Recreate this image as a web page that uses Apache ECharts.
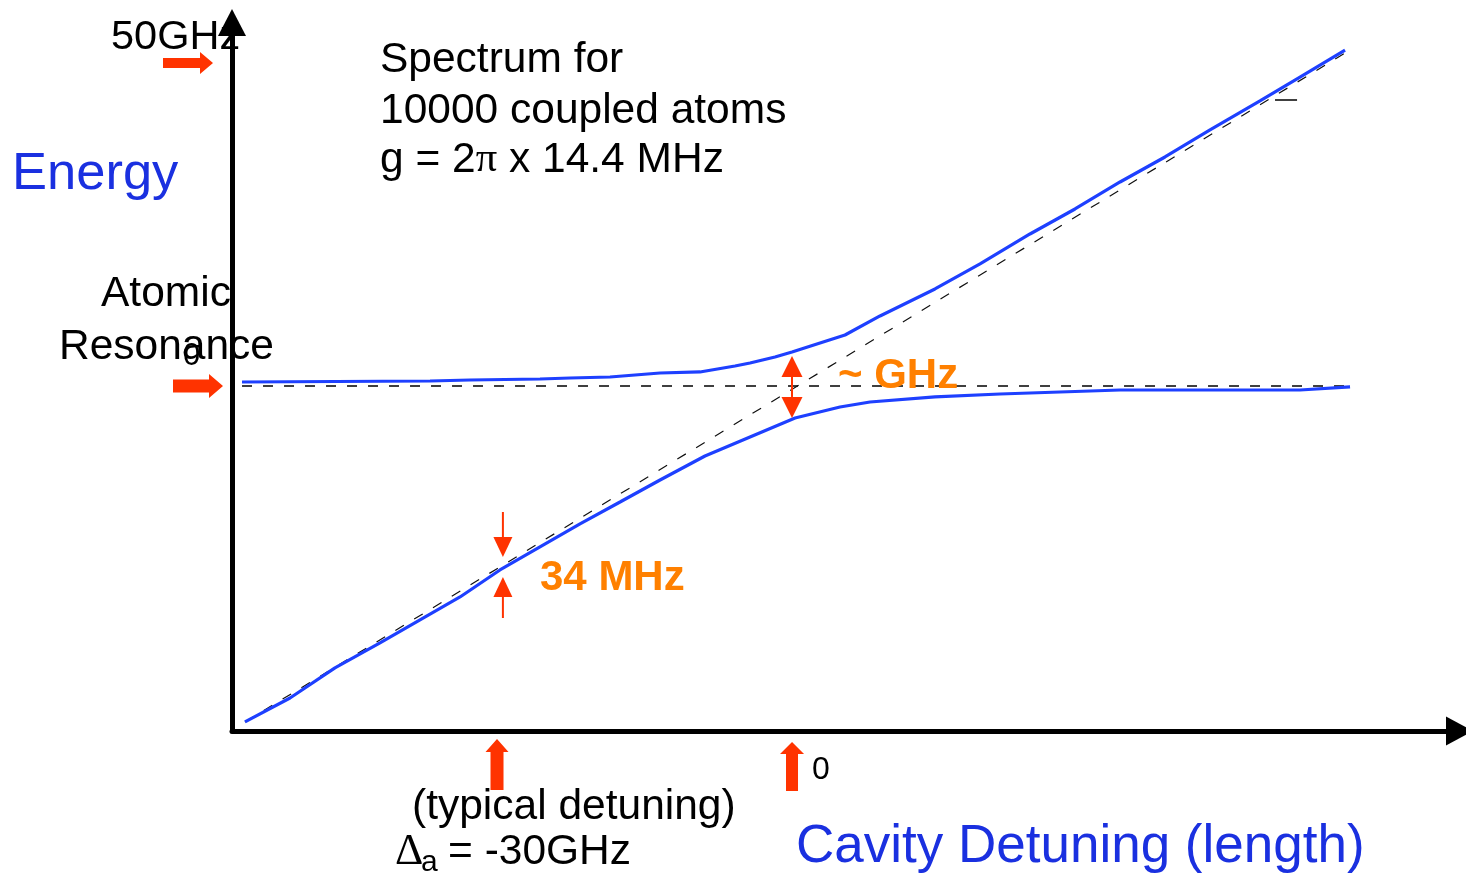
<!DOCTYPE html>
<html>
<head>
<meta charset="utf-8">
<title>Spectrum for 10000 coupled atoms</title>
<script src="https://cdn.jsdelivr.net/npm/echarts@6/dist/echarts.min.js"></script>
<style>
  html, body { margin: 0; padding: 0; background: #fff; }
  #chart { width: 1466px; height: 874px; }
</style>
</head>
<body>
<div id="chart"></div>
<script>
// cavity detuning (GHz) vs energy relative to the atomic resonance (GHz)
const upperX = [-55.93, -36.81, -32.75, -25.63, -22.58, -18.51, -13.42, -9.36, -5.80, -4.27, -1.73, 0, 2.85, 5.39, 8.95, 14.54, 19.12, 24.20, 28.78, 33.36, 37.93, 42.51, 47.59, 51.66, 56.24];
const upperY = [0.62, 0.77, 0.93, 1.08, 1.24, 1.39, 2.01, 2.17, 3.10, 3.56, 4.49, 5.26, 6.66, 7.89, 10.84, 15.02, 18.89, 23.53, 27.40, 31.58, 35.45, 39.63, 44.12, 47.83, 52.01];
const lowerX = [-55.63, -51.05, -46.48, -41.90, -37.83, -33.76, -29.70, -25.63, -21.56, -17.49, -13.42, -8.85, -4.27, 0.31, 4.88, 7.93, 14.54, 21.15, 27.25, 33.36, 41.49, 51.66, 56.75];
const lowerY = [-52.01, -48.30, -43.65, -39.78, -36.22, -32.66, -28.48, -24.92, -21.36, -17.96, -14.55, -10.84, -7.89, -4.95, -3.25, -2.48, -1.70, -1.24, -0.93, -0.62, -0.62, -0.62, -0.15];
// uncoupled cavity (dashed diagonal) and bare atomic level (dashed horizontal)
const cavityX = [-55.63, 56.75];
const cavityY = [-52.01, 52.01];
const atomX = [-55.93, 56.75];
const atomY = [0, 0];
// little stray dash in the original drawing
const strayX = [49.12, 51.36];
const strayY = [44.27, 44.27];

// marked values
const energyMarks = [50, 0];        // 50GHz, atomic resonance
const detuningMarks = [-30, 0];     // typical detuning, zero
const splitGap = { x: 0, top: 4.64, bottom: -4.95 };          // ~ GHz
const narrowGap = { x: -29.4, top: -26.47, bottom: -29.57 };  // 34 MHz

const X_MIN = -56.95, X_MAX = 67.88, Y_MIN = -53.41, Y_MAX = 56.27;
const SANS = '"Liberation Sans", Arial, sans-serif';
const SERIF = '"Liberation Serif", "Times New Roman", serif';
const BLUE = '#1e40ff';
const BLUE_TEXT = '#1a30e0';
const RED = '#ff3300';
const ORANGE = '#ff8000';

const zip = (xs, ys) => xs.map((x, i) => [x, ys[i]]);

const hidden = {
  axisTick: { show: false },
  axisLabel: { show: false },
  splitLine: { show: false }
};

const option = {
  animation: false,
  backgroundColor: '#fff',
  grid: { left: 232, right: 6.5, top: 22.5, bottom: 143, outerBoundsMode: 'none' },
  xAxis: Object.assign({
    type: 'value', min: X_MIN, max: X_MAX,
    axisLine: { onZero: false, symbol: ['none', 'triangle'], symbolSize: [29, 27], lineStyle: { color: '#000', width: 5 } }
  }, hidden),
  yAxis: Object.assign({
    type: 'value', min: Y_MIN, max: Y_MAX,
    axisLine: { onZero: false, symbol: ['none', 'triangle'], symbolSize: [28, 27], lineStyle: { color: '#000', width: 5 } }
  }, hidden),
  series: [
    { name: 'atom', type: 'line', data: zip(atomX, atomY), symbol: 'none', z: 1,
      lineStyle: { color: '#000', width: 1.3, type: [10, 11] } },
    { name: 'cavity', type: 'line', data: zip(cavityX, cavityY), symbol: 'none', z: 1,
      lineStyle: { color: '#111', width: 1.2, type: [10, 12] } },
    { name: 'stray', type: 'line', data: zip(strayX, strayY), symbol: 'none', z: 1,
      lineStyle: { color: '#000', width: 1.3 } },
    { name: 'upper', type: 'line', data: zip(upperX, upperY), symbol: 'none', z: 3,
      lineStyle: { color: BLUE, width: 3.2 } },
    { name: 'lower', type: 'line', data: zip(lowerX, lowerY), symbol: 'none', z: 3,
      lineStyle: { color: BLUE, width: 3.2 } }
  ]
};

const chart = echarts.init(document.getElementById('chart'));
chart.setOption(option);

const P = (x, y) => chart.convertToPixel({ gridIndex: 0 }, [x, y]);
const axisLeft = P(X_MIN, 0)[0];
const axisBottom = P(0, Y_MIN)[1];

// filled block arrow, dir = unit vector pointing at the tip
function blockArrow(tip, dir, len, bodyW, headW, headL) {
  const n = [-dir[1], dir[0]];
  const at = (a, b) => [tip[0] - dir[0] * a + n[0] * b, tip[1] - dir[1] * a + n[1] * b];
  return {
    type: 'polygon', z: 100, silent: true,
    shape: { points: [tip, at(headL, headW / 2), at(headL, bodyW / 2), at(len, bodyW / 2),
                      at(len, -bodyW / 2), at(headL, -bodyW / 2), at(headL, -headW / 2)] },
    style: { fill: RED }
  };
}

// thin line with triangular head
function thinArrow(tail, tip, headW, headL) {
  const dx = tip[0] - tail[0], dy = tip[1] - tail[1];
  const L = Math.hypot(dx, dy);
  const d = [dx / L, dy / L], n = [-d[1], d[0]];
  const base = [tip[0] - d[0] * headL, tip[1] - d[1] * headL];
  return [
    { type: 'line', z: 100, silent: true,
      shape: { x1: tail[0], y1: tail[1], x2: base[0], y2: base[1] },
      style: { stroke: RED, lineWidth: 2 } },
    { type: 'polygon', z: 100, silent: true,
      shape: { points: [tip, [base[0] + n[0] * headW / 2, base[1] + n[1] * headW / 2],
                        [base[0] - n[0] * headW / 2, base[1] - n[1] * headW / 2]] },
      style: { fill: RED } }
  ];
}

function label(text, x, y, size, color, weight, family) {
  return {
    type: 'text', x: x, y: y, z: 100, silent: true,
    style: {
      text: text, fill: color,
      font: (weight || 'normal') + ' ' + size + 'px ' + (family || SANS),
      verticalAlign: 'middle', textVerticalAlign: 'middle'
    }
  };
}

const graphics = [];

// arrows on the energy axis
graphics.push(blockArrow([axisLeft - 19, P(0, energyMarks[0])[1]], [1, 0], 50, 10, 22, 13));
graphics.push(blockArrow([axisLeft - 9, P(0, energyMarks[1])[1]], [1, 0], 50, 13, 24, 14));
// arrows under the detuning axis
graphics.push(blockArrow([P(detuningMarks[0], 0)[0], axisBottom + 8], [0, -1], 51, 13, 23, 13));
graphics.push(blockArrow([P(detuningMarks[1], 0)[0], axisBottom + 11], [0, -1], 49, 12, 24, 12));

// ~ GHz double arrow
const gTop = P(splitGap.x, splitGap.top), gBot = P(splitGap.x, splitGap.bottom);
const gMid = [gTop[0], (gTop[1] + gBot[1]) / 2];
graphics.push(...thinArrow(gMid, gTop, 21, 21));
graphics.push(...thinArrow(gMid, gBot, 21, 21));

// 34 MHz pinch arrows
const nTop = P(narrowGap.x, narrowGap.top), nBot = P(narrowGap.x, narrowGap.bottom);
graphics.push(...thinArrow([nTop[0], nTop[1] - 45], nTop, 19, 20));
graphics.push(...thinArrow([nBot[0], nBot[1] + 41], nBot, 19, 20));

// texts
graphics.push(label('50GHz', 111, 38, 41.5, '#000'));
graphics.push(label('Energy', 12, 175, 52.5, BLUE_TEXT));
graphics.push(label('Atomic', 101, 294, 42.5, '#000'));
graphics.push(label('0', 183, 356, 31, '#000'));
graphics.push(label('Resonance', 59, 347, 42.5, '#000'));
graphics.push(label('Spectrum for', 380, 60, 42.5, '#000'));
graphics.push(label('10000 coupled atoms', 380, 111, 42.5, '#000'));
graphics.push({
  type: 'text', x: 380, y: 160, z: 100, silent: true,
  style: {
    text: '{a|g = 2}{b|\u03c0}{a| x 14.4 MHz}',
    rich: {
      a: { fontSize: 42.5, fontFamily: SANS, fill: '#000' },
      b: { fontSize: 42.5, fontFamily: SERIF, fill: '#000' }
    },
    verticalAlign: 'middle', textVerticalAlign: 'middle'
  }
});
graphics.push(label('~ GHz', 838, 376, 42, ORANGE, 'bold'));
graphics.push(label('34 MHz', 540, 578, 42, ORANGE, 'bold'));
graphics.push(label('0', 812, 770, 32, '#000'));
graphics.push(label('(typical detuning)', 412, 807, 42.5, '#000'));
graphics.push(label('\u0394', 395, 852, 44, '#000', 'normal', SERIF));
graphics.push(label('a', 421, 863, 30, '#000'));
graphics.push(label('= -30GHz', 448, 852, 42.5, '#000'));
graphics.push(label('Cavity Detuning (length)', 796, 847, 53, BLUE_TEXT));

chart.setOption({ graphic: { elements: graphics } });
</script>
</body>
</html>
